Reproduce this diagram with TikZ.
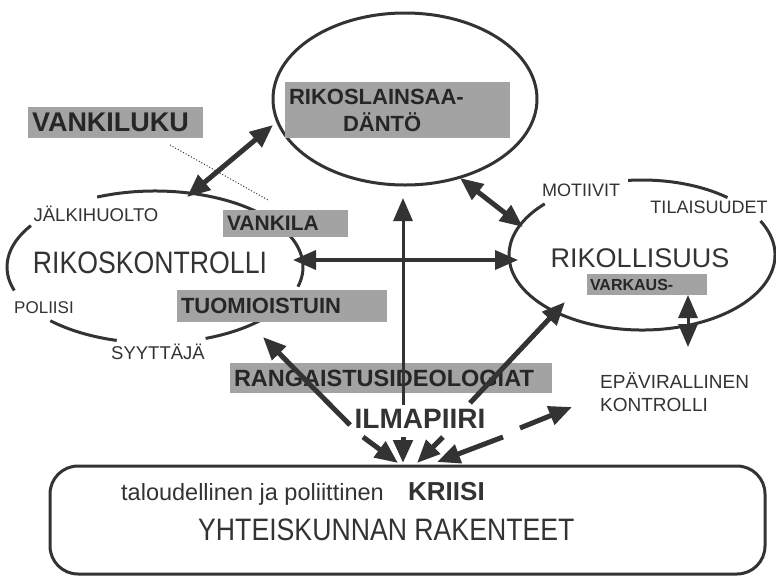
\documentclass[tikz,border=0pt]{standalone}
\usepackage{fontspec}
\setmainfont{Liberation Sans}
\newfontfamily\narrowsf{Liberation Sans}[FakeStretch=0.86]
\usetikzlibrary{arrows.meta,shapes.geometric}
\newcommand{\fsz}[1]{\fontsize{#1}{#1}\selectfont}
\definecolor{ink}{gray}{0.2}
\definecolor{boxink}{gray}{0.15}
\definecolor{halftone}{gray}{0.64}
\tikzset{
	rim/.style={ink, line width=3pt},
	shadebox/.style={fill=halftone, text=boxink, inner xsep=4pt, inner ysep=0pt, align=left},
	word/.style={text=ink, inner sep=0pt, anchor=base},
	link/.style={ink, line width=#1, {Triangle[length=23pt,width=19pt]}-{Triangle[length=23pt,width=19pt]}},
	link/.default=5pt,
	push/.style={ink, line width=#1, -{Triangle[length=23pt,width=19pt]}},
	push/.default=5pt
}
\begin{document}
\begin{tikzpicture}[x=1pt,y=-1pt]
	\useasboundingbox[fill=white] (0,0) rectangle (776,579);

	% ovals
	\node[ellipse, draw=ink, line width=3pt, minimum width=264pt, minimum height=172pt, inner sep=0pt] (lawoval) at (405,99) {};
	\coordinate (ctrl) at (155,267);
		\draw[rim] ([shift={(113:148pt and 76pt)}]ctrl) arc[start angle=113, end angle=-15, x radius=148pt, y radius=76pt];
		\draw[rim] ([shift={(-45:148pt and 76pt)}]ctrl) arc[start angle=-45, end angle=-70, x radius=148pt, y radius=76pt];
		\draw[rim] ([shift={(-105:148pt and 76pt)}]ctrl) arc[start angle=-105, end angle=-135, x radius=148pt, y radius=76pt];
		\draw[rim] ([shift={(147:148pt and 76pt)}]ctrl) arc[start angle=147, end angle=198, x radius=148pt, y radius=76pt];
	\coordinate (crim) at (642,255);
		\draw[rim] ([shift={(96:133pt and 75pt)}]crim) arc[start angle=96, end angle=50, x radius=133pt, y radius=75pt];
		\draw[rim] ([shift={(27:133pt and 75pt)}]crim) arc[start angle=27, end angle=-223, x radius=133pt, y radius=75pt];
	\node[draw=ink, line width=3pt, rounded corners=28pt, minimum width=715pt, minimum height=108pt] (society) at (407.5,520) {};

	\coordinate (countend) at (170,145);
	\coordinate (prisonend) at (268,200);
	\draw[ink, line width=1pt, dotted] (countend) -- (prisonend);

	% shaded labels
	\node[shadebox, text width=167pt, minimum height=31pt, font=\bfseries\fsz{27}] (prisoncount) at (115.5,122.5) {VANKILUKU};
	\node[shadebox, text width=217pt, minimum height=56pt, font=\bfseries\fsz{22}] (law) at (397.5,110) {RIKOSLAINSAA-\\[5pt]\hspace*{54pt}DÄNTÖ};
	\node[shadebox, text width=117pt, minimum height=27pt, font=\bfseries\fsz{21}] (prison) at (285.5,223.5) {VANKILA};
	\node[shadebox, text width=202pt, minimum height=32pt, font=\bfseries\fsz{22}] (court) at (282,306) {TUOMIOISTUIN};
	\node[shadebox, text width=314pt, minimum height=30pt, font=\bfseries\fsz{23.5}] (ideology) at (391,378) {RANGAISTUSIDEOLOGIAT};
	\node[shadebox, text width=114pt, minimum height=21pt, inner xsep=3pt, font=\bfseries\fsz{16}] (theft) at (647,284.5) {VARKAUS-};

	% plain labels
	\node[word, font=\fsz{18.5}] (aftercare) at (96,221) {JÄLKIHUOLTO};
	\node[word, font=\narrowsf\fsz{31}] (control) at (150,273) {RIKOSKONTROLLI};
	\node[word, font=\fsz{17}] (police) at (44,313) {POLIISI};
	\node[word, font=\fsz{18.5}] (prosecutor) at (158,359) {SYYTTÄJÄ};
	\node[word, font=\fsz{18}] (motives) at (581,196) {MOTIIVIT};
	\node[word, font=\fsz{18}] (chances) at (709,213) {TILAISUUDET};
	\node[word, font=\fsz{27}] (crime) at (640,267) {RIKOLLISUUS};
	\node[word, font=\bfseries\fsz{28}] (climate) at (420,428) {ILMAPIIRI};
	\node[word, anchor=base west, font=\fsz{19}] (informal) at (600,388) {EPÄVIRALLINEN};
	\node[word, anchor=base west, font=\fsz{19}] (informalb) at (600,411) {KONTROLLI};
	\node[word, anchor=base west, font=\fsz{23.5}] (economy) at (121,500) {taloudellinen ja poliittinen};
	\node[word, anchor=base west, font=\bfseries\fsz{26}] (crisis) at (408,500) {KRIISI};
	\node[word, anchor=base west, font=\narrowsf\fsz{31}] (structure) at (198,540) {YHTEISKUNNAN RAKENTEET};

	% arrows
	\coordinate (lawW) at (273,125);
	\coordinate (ctrlN) at (187,197);
	\coordinate (lawSE) at (460,178);
	\coordinate (crimNW) at (523,227);
	\coordinate (ctrlE) at (293,260);
	\coordinate (crimW) at (518,260);
	\coordinate (lawS) at (403,198);
	\coordinate (climN) at (403,405);
	\coordinate (climW) at (350,425);
	\coordinate (ctrlSE) at (263,337);
	\coordinate (climNE) at (470,403);
	\coordinate (crimSW) at (565,302);
	\coordinate (climE) at (520,428);
	\coordinate (informalW) at (572,407);
	\coordinate (theftS) at (688,295);
	\coordinate (informalN) at (688,347);
	\draw[link] (lawW) -- (ctrlN);
	\draw[link] (lawSE) -- (crimNW);
	\draw[link=3.5pt] (ctrlE) -- (crimW);
	\draw[push=3pt] (climN) -- (lawS);
	\draw[push] (climW) -- (ctrlSE);
	\draw[push] (climNE) -- (crimSW);
	\draw[push] (climE) -- (informalW);
	\draw[link=3pt] (theftS) -- (informalN);

	\coordinate (downA) at (363,437); \coordinate (tipA) at (398,463);
	\coordinate (downB) at (403,437); \coordinate (tipB) at (403,463);
	\coordinate (downC) at (443,437); \coordinate (tipC) at (417,463);
	\coordinate (downD) at (503,437); \coordinate (tipD) at (437,462);
	\foreach \s in {A,B,C,D}
		\draw[push] (down\s) -- (tip\s);
\end{tikzpicture}
\end{document}
